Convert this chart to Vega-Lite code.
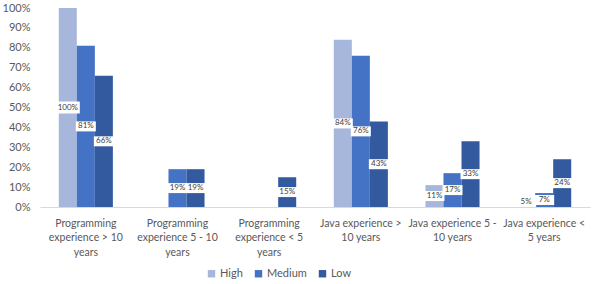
{
  "$schema": "https://vega.github.io/schema/vega-lite/v6.json",
  "autosize": {"type": "none"},
  "width": 550,
  "height": 199,
  "padding": {"left": 40, "top": 8, "right": 8, "bottom": 77},
  "background": "white",
  "config": {
    "view": {"stroke": null},
    "font": "Lato",
    "axis": {"labelFont": "Lato", "labelColor": "#595959"},
    "legend": {"labelFont": "Lato", "labelColor": "#595959"}
  },
  "data": {
    "values": [
      {"category": "Programming experience > 10 years", "level": "High", "value": 1.00},
      {"category": "Programming experience > 10 years", "level": "Medium", "value": 0.81},
      {"category": "Programming experience > 10 years", "level": "Low", "value": 0.66},
      {"category": "Programming experience 5 - 10 years", "level": "High", "value": 0},
      {"category": "Programming experience 5 - 10 years", "level": "Medium", "value": 0.19},
      {"category": "Programming experience 5 - 10 years", "level": "Low", "value": 0.19},
      {"category": "Programming experience < 5 years", "level": "High", "value": 0},
      {"category": "Programming experience < 5 years", "level": "Medium", "value": 0},
      {"category": "Programming experience < 5 years", "level": "Low", "value": 0.15},
      {"category": "Java experience > 10 years", "level": "High", "value": 0.84},
      {"category": "Java experience > 10 years", "level": "Medium", "value": 0.76},
      {"category": "Java experience > 10 years", "level": "Low", "value": 0.43},
      {"category": "Java experience 5 - 10 years", "level": "High", "value": 0.11},
      {"category": "Java experience 5 - 10 years", "level": "Medium", "value": 0.17},
      {"category": "Java experience 5 - 10 years", "level": "Low", "value": 0.33},
      {"category": "Java experience < 5 years", "level": "High", "value": 0.05},
      {"category": "Java experience < 5 years", "level": "Medium", "value": 0.07},
      {"category": "Java experience < 5 years", "level": "Low", "value": 0.24}
    ]
  },
  "encoding": {
    "x": {
      "field": "category",
      "type": "nominal",
      "sort": null,
      "title": null,
      "scale": {"paddingInner": 0.41, "paddingOuter": 0.205},
      "axis": {
        "labelAngle": 0,
        "labelFontSize": 10.5,
        "labelLineHeight": 14.5,
        "labelPadding": 11,
        "labelBaseline": "top",
        "ticks": false,
        "domainColor": "#d9d9d9",
        "labelLimit": 0,
        "labelOverlap": false,
        "labelExpr": "datum.label == 'Programming experience > 10 years' ? ['Programming', 'experience > 10', 'years'] : datum.label == 'Programming experience 5 - 10 years' ? ['Programming', 'experience 5 - 10', 'years'] : datum.label == 'Programming experience < 5 years' ? ['Programming', 'experience < 5', 'years'] : datum.label == 'Java experience > 10 years' ? ['Java experience >', '10 years'] : datum.label == 'Java experience 5 - 10 years' ? ['Java experience 5 -', '10 years'] : ['Java experience <', '5 years']"
      }
    },
    "xOffset": {
      "field": "level",
      "type": "nominal",
      "sort": ["High", "Medium", "Low"],
      "scale": {"paddingInner": 0, "paddingOuter": 0}
    }
  },
  "layer": [
    {
      "mark": {"type": "bar"},
      "encoding": {
        "y": {
          "field": "value",
          "type": "quantitative",
          "title": null,
          "scale": {"domain": [0, 1]},
          "axis": {
            "format": ".0%",
            "values": [0, 0.1, 0.2, 0.3, 0.4, 0.5, 0.6, 0.7, 0.8, 0.9, 1],
            "labelOverlap": false,
            "domain": false,
            "ticks": false,
            "grid": false,
            "labelFontSize": 11,
            "labelPadding": 10
          }
        },
        "color": {
          "field": "level",
          "type": "nominal",
          "sort": ["High", "Medium", "Low"],
          "title": null,
          "scale": {"domain": ["High", "Medium", "Low"], "range": ["#a7b6db", "#4472c4", "#335a9e"]},
          "legend": {
            "orient": "none",
            "legendX": 166,
            "legendY": 260,
            "direction": "horizontal",
            "symbolType": "square",
            "symbolSize": 55,
            "labelFontSize": 11,
            "columnPadding": 10,
            "labelOffset": 3
          }
        }
      }
    },
    {
      "transform": [{"filter": "datum.value > 0"}],
      "mark": {
        "type": "point",
        "shape": "M-1,-0.5L1,-0.5L1,0.5L-1,0.5Z",
        "filled": true,
        "color": "white",
        "opacity": 1
      },
      "encoding": {
        "y": {"field": "value", "type": "quantitative", "scale": {"domain": [0, 2]}, "axis": null},
        "size": {"condition": {"test": "datum.value >= 1", "value": 576}, "value": 400}
      }
    },
    {
      "transform": [{"filter": "datum.value > 0"}],
      "mark": {"type": "text", "fontSize": 8, "font": "Lato", "color": "#404040", "baseline": "middle"},
      "encoding": {
        "y": {"field": "value", "type": "quantitative", "scale": {"domain": [0, 2]}, "axis": null},
        "text": {"field": "value", "type": "quantitative", "format": ".0%"}
      }
    }
  ],
  "resolve": {"scale": {"y": "independent"}}
}
